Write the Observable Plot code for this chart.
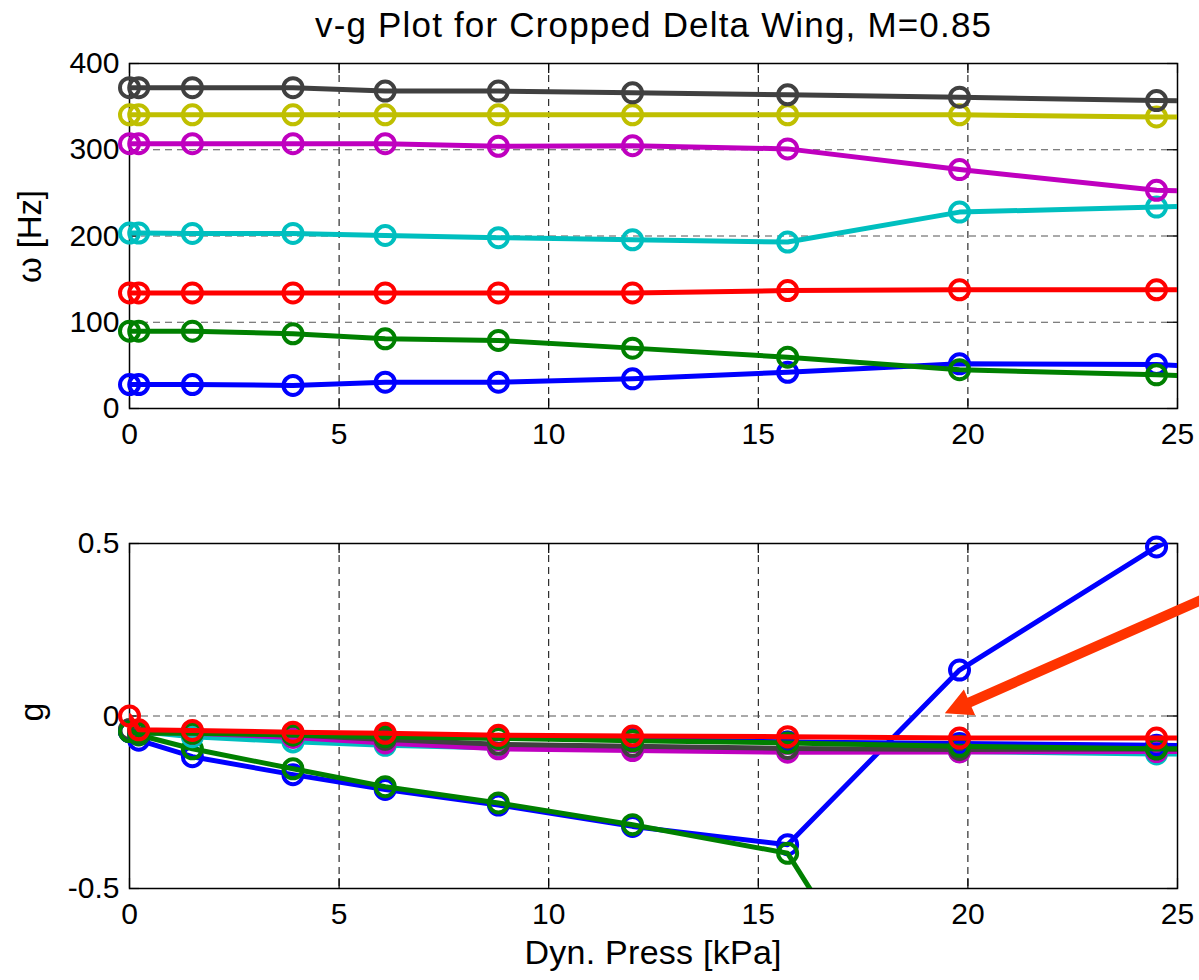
<!DOCTYPE html>
<html><head><meta charset="utf-8">
<script src="https://cdn.jsdelivr.net/npm/d3@7"></script>
<script src="https://cdn.jsdelivr.net/npm/@observablehq/plot@0.6"></script>
<style>
body{margin:0;background:#fff;}
#fig{position:relative;width:1199px;height:980px;font-family:"Liberation Sans",Arial,Helvetica,sans-serif;color:#000;overflow:hidden;background:#fff}
#fig svg{position:absolute;left:0;background:transparent}
.lbl{position:absolute;white-space:nowrap;font-family:"Liberation Sans",Arial,Helvetica,sans-serif}
</style></head><body><div id="fig"></div>
<script>
// ---------------- data ----------------
const dynPress = [0, 0.22, 1.5, 3.9, 6.1, 8.8, 12.0, 15.7, 19.8, 24.5, 29.7];
const modeColors = ["#0000ff", "#008000", "#ff0000", "#00bfbf", "#bf00bf", "#bfbf00", "#404040", "#0000ff", "#008000"];
// frequency [Hz] of modes 1..7 (modes 8, 9 lie above 400 Hz)
const freq1 = [27.8, 27.8, 27.8, 26.7, 30.5, 30.5, 34.4, 42.0, 51.8, 51.0, 40.0];
const freq2 = [89.7, 89.7, 89.7, 86.6, 80.8, 78.9, 70.0, 59.5, 45.0, 39.0, 30.0];
const freq3 = [134, 134, 134, 134, 134, 134, 134, 136.8, 137.6, 137.6, 137.6];
const freq4 = [203.4, 203.4, 203.0, 203.0, 200.6, 198.0, 195.6, 193.0, 227.7, 233.5, 240];
const freq5 = [307, 307, 307, 307, 307, 304, 304.7, 301, 277, 253, 248];
const freq6 = [340.5, 340.5, 340.5, 340.5, 340.5, 340.5, 340.5, 340.5, 340.5, 338, 337];
const freq7 = [372, 372, 372, 372, 368, 368, 366, 363.7, 361, 357, 356];
// damping g of modes 1..9
const damp1 = [-0.045, -0.07, -0.118, -0.17, -0.213, -0.258, -0.32, -0.373, 0.133, 0.49, 0.80];
const damp2 = [-0.045, -0.055, -0.095, -0.153, -0.205, -0.252, -0.315, -0.398, -1.19, -1.6, -2.0];
const damp3 = [0.0, -0.04, -0.042, -0.047, -0.05, -0.056, -0.058, -0.06, -0.064, -0.064, -0.065];
const damp4 = [-0.04, -0.045, -0.06, -0.075, -0.085, -0.093, -0.097, -0.1, -0.103, -0.11, -0.112];
const damp5 = [-0.04, -0.045, -0.05, -0.062, -0.078, -0.095, -0.1, -0.105, -0.104, -0.103, -0.104];
const damp6 = [-0.04, -0.043, -0.045, -0.05, -0.055, -0.06, -0.066, -0.075, -0.085, -0.09, -0.092];
const damp7 = [-0.04, -0.045, -0.048, -0.055, -0.068, -0.082, -0.088, -0.094, -0.097, -0.096, -0.097];
const damp8 = [-0.045, -0.05, -0.045, -0.05, -0.055, -0.06, -0.068, -0.075, -0.08, -0.085, -0.087];
const damp9 = [-0.045, -0.05, -0.05, -0.055, -0.06, -0.065, -0.072, -0.078, -0.088, -0.095, -0.097];
// axis ticks
const xTicks = [0, 5, 10, 15, 20, 25];
const xGrid = [5, 10, 15, 20];
const freqTicks = [0, 100, 200, 300, 400];
const freqGrid = [100, 200, 300];
const dampTicks = [-0.5, 0, 0.5];
const dampGrid = [0];
// annotation arrow (tail, head) in data units
const arrowQ = [25.6, 19.45];
const arrowG = [0.338, 0.008];
// texts
const titleText = "v-g Plot for Cropped Delta Wing, M=0.85";
const xLabelText = "Dyn. Press [kPa]";
const freqLabelText = "ω [Hz]";
const dampLabelText = "g";

// ---------------- layout ----------------
const W = 1199, H = 460, ML = 129, MR = 22, MT = 63, MB = 52;
const FW = W - ML - MR, FH = H - MT - MB;
const FONT = '"Liberation Sans", Arial, Helvetica, sans-serif';
const fig = document.getElementById("fig");

const freqSeries = [freq1, freq2, freq3, freq4, freq5, freq6, freq7];
const dampSeries = [damp1, damp2, damp3, damp4, damp5, damp6, damp7, damp8, damp9];

function rowsOf(vals) { return dynPress.map((q, i) => ({q, v: vals[i]})); }

function seriesMarks(series, order, ydom) {
  const marks = [];
  for (const k of order) {
    const rows = rowsOf(series[k]);
    const c = modeColors[k];
    marks.push(Plot.line(rows, {x: "q", y: "v", stroke: c, strokeWidth: 5, clip: true}));
    marks.push(Plot.dot(rows.filter(d => d.q <= 25 && d.v >= ydom[0] && d.v <= ydom[1]),
      {x: "q", y: "v", r: 9.5, stroke: c, strokeWidth: 4, fill: "none"}));
  }
  return marks;
}

function frameMarks(yTicks, hGrid) {
  return [
    Plot.ruleX(xGrid, {stroke: "#000", strokeWidth: 1, strokeDasharray: "7,5"}),
    Plot.ruleY(hGrid, {stroke: "#555", strokeWidth: 1, strokeDasharray: "7,5"}),
    Plot.frame({stroke: "#000", strokeWidth: 1.5}),
    Plot.tickX(xTicks, {x: d => d, insetTop: FH - 10, stroke: "#000", strokeWidth: 1.2}),
    Plot.tickX(xTicks, {x: d => d, insetBottom: FH - 10, stroke: "#000", strokeWidth: 1.2}),
    Plot.tickY(yTicks, {y: d => d, insetRight: FW - 10, stroke: "#000", strokeWidth: 1.2}),
    Plot.tickY(yTicks, {y: d => d, insetLeft: FW - 10, stroke: "#000", strokeWidth: 1.2}),
    Plot.axisX(xTicks, {tickSize: 0, tickPadding: 14, fontSize: 30, tickFormat: d => String(d), label: null, fill: "#000"}),
    Plot.axisY(yTicks, {tickSize: 0, tickPadding: 10, fontSize: 30, tickFormat: d => String(d), label: null, fill: "#000"})
  ];
}

const baseOpts = {
  width: W, height: H, marginLeft: ML, marginRight: MR, marginTop: MT, marginBottom: MB,
  x: {domain: [0, 25]},
  style: {fontFamily: FONT, fontSize: "30px", color: "#000", background: "transparent"}
};

// ---------- top plot ----------
const freqDom = [0, 400];
const topPlot = Plot.plot({
  ...baseOpts,
  y: {domain: freqDom},
  marks: [
    ...frameMarks(freqTicks, freqGrid),
    ...seriesMarks(freqSeries, [0, 1, 2, 3, 4, 5, 6], freqDom)
  ]
});
topPlot.style.top = "0px";
fig.appendChild(topPlot);

// ---------- bottom plot ----------
const dampDom = [-0.5, 0.5];
const px = q => ML + q / 25 * FW;
const py = g => (H - MB) - (g - dampDom[0]) / (dampDom[1] - dampDom[0]) * FH;
const adx = px(arrowQ[1]) - px(arrowQ[0]);
const ady = py(arrowG[1]) - py(arrowG[0]);
const arrowRotate = Math.atan2(adx, -ady) * 180 / Math.PI;
const arrowLength = Math.hypot(adx, ady);
const arrowShape = {
  draw(ctx, l) {
    const hl = 27, hw = 14, sw = 5;
    ctx.moveTo(-sw, 0);
    ctx.lineTo(-sw, -l + hl);
    ctx.lineTo(-hw, -l + hl);
    ctx.lineTo(0, -l);
    ctx.lineTo(hw, -l + hl);
    ctx.lineTo(sw, -l + hl);
    ctx.lineTo(sw, 0);
    ctx.closePath();
  }
};
function makeBottom(shape) {
  return Plot.plot({
    ...baseOpts,
    y: {domain: dampDom},
    marks: [
      ...frameMarks(dampTicks, dampGrid),
      ...seriesMarks(dampSeries, [0, 1, 3, 4, 5, 6, 7, 8, 2], dampDom),
      Plot.vector([{q: arrowQ[1], v: arrowG[1]}], {
        x: "q", y: "v", rotate: arrowRotate, length: arrowLength, anchor: "end",
        shape, fill: shape === "arrow" ? "none" : "#ff3300",
        stroke: shape === "arrow" ? "#ff3300" : "none", strokeWidth: shape === "arrow" ? 9 : 0
      })
    ]
  });
}
let bottomPlot;
try { bottomPlot = makeBottom(arrowShape); } catch (e) { bottomPlot = makeBottom("arrow"); }
bottomPlot.style.top = "480px";
fig.appendChild(bottomPlot);

// ---------- texts ----------
// (text, anchor x, anchor y, font size, target extent, rotated)
function addLabel(text, ax, ay, fs, target, rotate) {
  const d = document.createElement("div");
  d.className = "lbl";
  d.style.fontSize = fs + "px";
  d.style.lineHeight = fs + "px";
  d.textContent = text;
  fig.appendChild(d);
  let w = d.getBoundingClientRect().width;
  if (target && text.length > 1) {
    const ls = (target - w) / (text.length - 1);
    d.style.letterSpacing = ls + "px";
    w = d.getBoundingClientRect().width - ls;
  }
  const baseOff = fs / 2 + 0.3465 * fs; // baseline offset from top of the line box
  if (!rotate) {
    d.style.left = (ax - w / 2) + "px";
    d.style.top = (ay - baseOff) + "px";
  } else {
    const centreX = ax - 0.3465 * fs;
    d.style.left = (centreX - w / 2) + "px";
    d.style.top = (ay - fs / 2) + "px";
    d.style.transform = "rotate(-90deg)";
    d.style.transformOrigin = (w / 2) + "px " + (fs / 2) + "px";
  }
}
addLabel(titleText, 653, 36.7, 35, 676, false);
addLabel(xLabelText, 653, 964, 34, 257, false);
addLabel(freqLabelText, 41, 236, 33, 93, true);
addLabel(dampLabelText, 43, 712, 34, 0, true);
</script></body></html>
